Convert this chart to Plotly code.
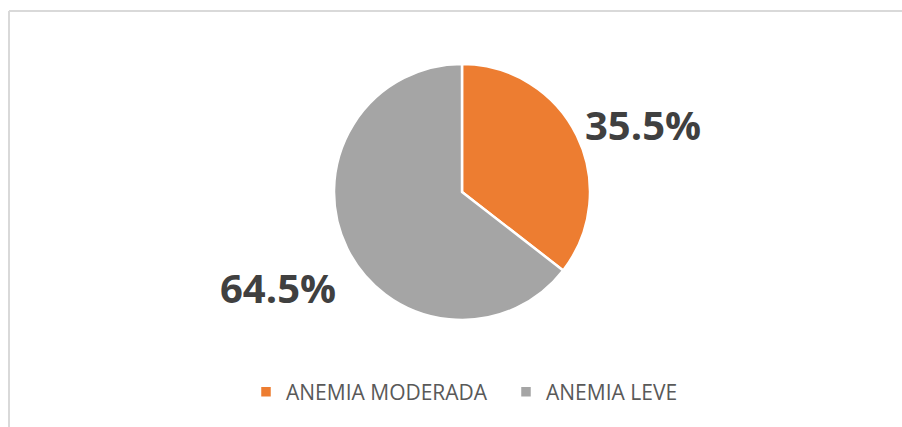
import plotly.graph_objects as go

# ── Data ─────────────────────────────────────────────────────────
labels = ["ANEMIA MODERADA", "ANEMIA LEVE"]
values = [35.5, 64.5]
colors = ["#ED7D31", "#A5A5A5"]

W, H = 902, 427

# label centres (px), one per slice
label_pos = [(643, 124), (278, 287)]

fig = go.Figure()
fig.add_trace(go.Pie(
    labels=labels,
    values=values,
    marker=dict(colors=colors, line=dict(color="white", width=2.5)),
    sort=False,
    direction="clockwise",
    rotation=0,
    textinfo="none",
    showlegend=True,
    domain=dict(x=[334 / W, 590 / W], y=[1 - 320 / H, 1 - 64 / H]),
))

total = sum(values)
for v, (px_, py_) in zip(values, label_pos):
    fig.add_annotation(
        x=px_ / W, y=1 - py_ / H,
        xref="paper", yref="paper",
        text=f"<b>{v / total * 100:.1f}%</b>",
        showarrow=False,
        font=dict(family="Open Sans", size=40, color="#404040"),
        xanchor="center", yanchor="middle",
    )

# chart frame: only top and left edges are visible in the source
top_y = 1 - 11 / H
left_x = 9 / W
frame = dict(color="#D9D9D9", width=2)
fig.add_shape(type="line", xref="paper", yref="paper",
              x0=left_x, x1=1, y0=top_y, y1=top_y, line=frame)
fig.add_shape(type="line", xref="paper", yref="paper",
              x0=left_x, x1=left_x, y0=0, y1=top_y, line=frame)

fig.update_layout(
    width=W,
    height=H,
    margin=dict(l=0, r=0, t=0, b=0),
    paper_bgcolor="white",
    plot_bgcolor="white",
    font=dict(family="Open Sans", color="#595959"),
    legend=dict(
        orientation="h",
        x=246 / W, xanchor="left",
        y=1 - 392 / H, yanchor="middle",
        font=dict(size=21, color="#595959"),
        entrywidth=215,
        itemclick=False,
    ),
)

fig.write_html(
    "out.html",
    config={"displayModeBar": False},
    post_script="document.body.style.margin='0';document.body.style.overflow='hidden';",
)
